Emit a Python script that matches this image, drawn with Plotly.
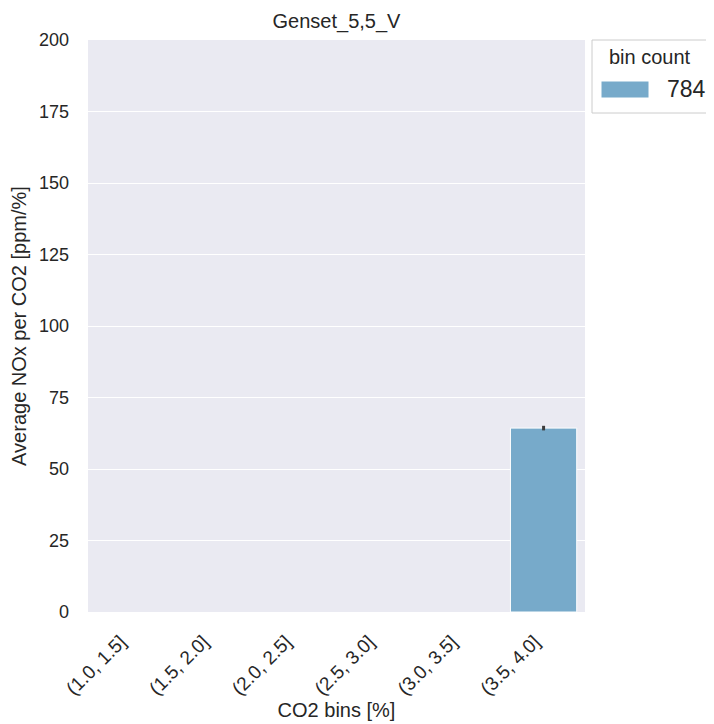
import plotly.graph_objects as go

categories = ["(1.0, 1.5]", "(1.5, 2.0]", "(2.0, 2.5]", "(2.5, 3.0]", "(3.0, 3.5]", "(3.5, 4.0]"]
values = [None, None, None, None, None, 64.3]
err = [0, 0, 0, 0, 0, 0.8]
bin_counts = [784]
title = "Genset_5,5_V"
bar_color = "#77aaca"
text_color = "#262626"

# page body offsets the figure by 8px; figure is 706x716
FW, FH = 706, 716
OFF = 8
L, R, T, B = 88 - OFF, 585 - OFF, 40 - OFF, 612 - OFF

fig = go.Figure()
fig.add_trace(go.Bar(
    x=categories, y=values, width=0.8,
    marker=dict(color=bar_color, line=dict(color="white", width=1)),
    error_y=dict(type="data", array=err, color="#3c3c3c", thickness=3, width=0),
    name=str(bin_counts[0]), showlegend=False,
))

fig.update_layout(
    width=FW, height=FH,
    margin=dict(l=L, r=FW - R, t=T, b=FH - B, pad=0),
    paper_bgcolor="white", plot_bgcolor="#eaeaf2",
    font=dict(family="Arial, Liberation Sans, sans-serif", color=text_color, size=18),
    title=dict(text=title, x=(L + R) / 2 / FW, xanchor="center", y=1 - 13 / FH,
               yanchor="middle", font=dict(size=20, color=text_color)),
)
fig.update_xaxes(
    type="category", categoryorder="array", categoryarray=categories,
    range=[-0.5, 5.5], showgrid=False, tickangle=-45, ticks="", showline=False,
    title=dict(text="CO2 bins [%]", font=dict(size=20), standoff=1),
    tickfont=dict(size=19), zeroline=False, ticklabelstandoff=14, ticklabelshift=-9,
    automargin=False,
)
fig.update_yaxes(
    range=[0, 200], dtick=25, gridcolor="white", gridwidth=1.3, zeroline=False,
    showline=False, ticks="", tickfont=dict(size=18), ticklabelstandoff=18,
    title=dict(text="Average NOx per CO2 [ppm/%]", font=dict(size=20), standoff=15),
    automargin=False,
)

pw, ph = R - L, B - T
def px(x): return (x - OFF - L) / pw
def py(y): return (B - (y - OFF)) / ph

fig.add_shape(type="rect", xref="paper", yref="paper",
              x0=px(592), x1=px(711), y0=py(113), y1=py(40),
              line=dict(color="#cccccc", width=1), fillcolor="white", layer="above")
fig.add_shape(type="rect", xref="paper", yref="paper",
              x0=px(601), x1=px(649), y0=py(98), y1=py(81),
              line=dict(color="white", width=1), fillcolor=bar_color, layer="above")
fig.add_annotation(xref="paper", yref="paper", x=px(650), y=py(57), text="bin count",
                   showarrow=False, xanchor="center", yanchor="middle",
                   font=dict(size=20, color=text_color))
fig.add_annotation(xref="paper", yref="paper", x=px(708), y=py(89), text=str(bin_counts[0]),
                   showarrow=False, xanchor="right", yanchor="middle",
                   font=dict(size=23, color=text_color))

fig.write_html("out.html")
